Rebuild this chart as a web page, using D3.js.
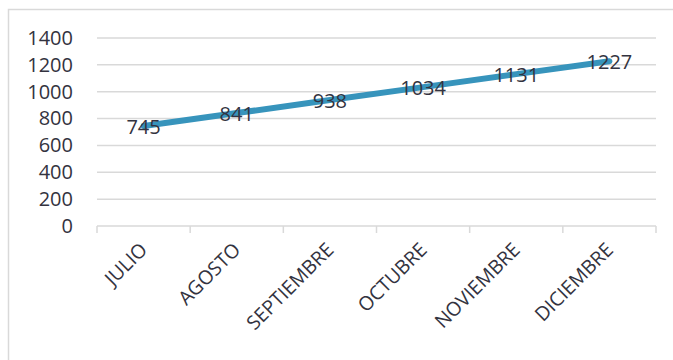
<!DOCTYPE html>
<html>
<head>
<meta charset="utf-8">
<script src="https://cdn.jsdelivr.net/npm/d3@7"></script>
<style>
  body { margin: 0; background: #fff; }
  text { font-family: "Open Sans", sans-serif; fill: #333340; }
</style>
</head>
<body>
<div id="chart"></div>
<script>
// data
var months = ["JULIO", "AGOSTO", "SEPTIEMBRE", "OCTUBRE", "NOVIEMBRE", "DICIEMBRE"];
var values = [745, 841, 938, 1034, 1131, 1227];
var yTicks = [0, 200, 400, 600, 800, 1000, 1200, 1400];

var W = 673, H = 360;
var margin = {top: 38, right: 17, bottom: 134, left: 97},
    width = W - margin.left - margin.right,
    height = H - margin.top - margin.bottom;

var svg = d3.select("#chart").append("svg")
    .attr("width", W)
    .attr("height", H);

// chart area border
svg.append("rect")
    .attr("x", 8.5).attr("y", 9.5)
    .attr("width", 700).attr("height", 400)
    .attr("fill", "none")
    .attr("stroke", "#d9d9d9")
    .attr("stroke-width", 1.5);

var g = svg.append("g")
    .attr("transform", "translate(" + margin.left + "," + margin.top + ")");

var x = d3.scaleBand()
    .domain(months)
    .range([0, width]);

var y = d3.scaleLinear()
    .domain([0, 1400])
    .range([height, 0]);

// gridlines
g.selectAll(".grid")
    .data(yTicks.filter(function(d) { return d > 0; }))
    .enter().append("line")
    .attr("class", "grid")
    .attr("x1", 0).attr("x2", width)
    .attr("y1", function(d) { return y(d); })
    .attr("y2", function(d) { return y(d); })
    .attr("stroke", "#d9d9d9")
    .attr("stroke-width", 1.5);

// y axis labels
var yAxis = g.append("g")
    .call(d3.axisLeft(y).tickValues(yTicks).tickSize(0).tickPadding(24)
      .tickFormat(d3.format("d")));
yAxis.select(".domain").remove();
yAxis.selectAll("text")
    .style("font-size", "20px")
    .style("font-family", "'Open Sans', sans-serif")
    .attr("fill", "#333340");

// x axis line and boundary ticks
g.append("line")
    .attr("x1", 0).attr("x2", width)
    .attr("y1", height).attr("y2", height)
    .attr("stroke", "#d9d9d9")
    .attr("stroke-width", 1.5);

var bounds = months.map(function(m) { return x(m); }).concat([width]);
g.selectAll(".xtick")
    .data(bounds)
    .enter().append("line")
    .attr("class", "xtick")
    .attr("x1", function(d) { return d; })
    .attr("x2", function(d) { return d; })
    .attr("y1", height).attr("y2", height + 7)
    .attr("stroke", "#d9d9d9")
    .attr("stroke-width", 1.5);

// category labels rotated
g.selectAll(".xlab")
    .data(months)
    .enter().append("text")
    .attr("class", "xlab")
    .attr("text-anchor", "end")
    .attr("transform", function(d) {
      return "translate(" + (x(d) + x.bandwidth() / 2 + 5) + "," + (height + 25) + ") rotate(-45)";
    })
    .style("font-size", "19.5px")
    .text(function(d) { return d; });

// line
var line = d3.line()
    .x(function(d, i) { return x(months[i]) + x.bandwidth() / 2; })
    .y(function(d) { return y(d); });

g.append("path")
    .datum(values)
    .attr("d", line)
    .attr("fill", "none")
    .attr("stroke", "#3794bc")
    .attr("stroke-width", 6)
    .attr("stroke-linecap", "round");

// data labels
g.selectAll(".lab")
    .data(values)
    .enter().append("text")
    .attr("class", "lab")
    .attr("text-anchor", "middle")
    .attr("x", function(d, i) { return x(months[i]) + x.bandwidth() / 2; })
    .attr("y", function(d) { return y(d) + 8; })
    .style("font-size", "20px")
    .text(function(d) { return d; });
</script>
</body>
</html>
